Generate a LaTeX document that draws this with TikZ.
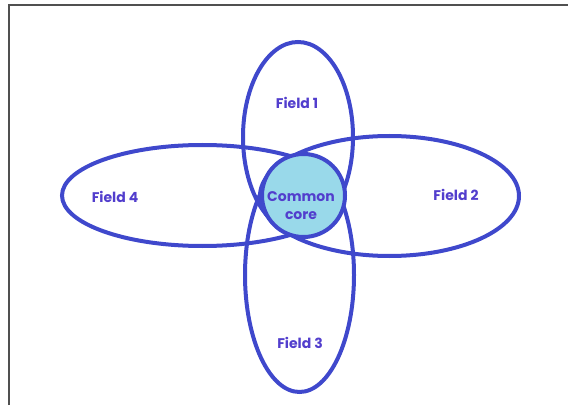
\documentclass[tikz,border=0pt]{standalone}
\usepackage{fontspec}
\setmainfont{Poppins}
\usetikzlibrary{shapes.geometric}
\definecolor{ringblue}{RGB}{63,72,204}
\definecolor{coreblue}{RGB}{153,217,234}
\definecolor{labelblue}{RGB}{82,62,205}
\definecolor{framegray}{RGB}{80,80,80}
\tikzset{
  ring/.style={ellipse, draw=ringblue, line width=4pt, inner sep=0pt},
  lbl/.style={text=labelblue, font=\fontsize{14}{18}\selectfont\bfseries, inner sep=0pt, align=center},
}
\begin{document}
\begin{tikzpicture}[x=1pt,y=1pt]
\useasboundingbox (0,0) rectangle (568,405);
\coordinate (ftl) at (9,400);
\coordinate (ftr) at (568,400);
\coordinate (fbl) at (9,0);
\draw[framegray, line width=1.5pt] (fbl) -- (ftl) -- (ftr);
\node[ring, minimum width=110pt, minimum height=190pt] (f1) at (298,268) {};
\node[ring, minimum width=109pt, minimum height=234pt] (f3) at (299.5,130) {};
\node[ring, minimum width=281pt, minimum height=101pt] (f4) at (202.5,209.5) {};
\node[ring, minimum width=259pt, minimum height=120pt] (f2) at (389.5,209) {};
\node[circle, draw=ringblue, fill=coreblue, line width=4pt, minimum size=83pt, inner sep=0pt] (core) at (303.5,209.5) {};
\node[lbl] (l1) at (297,302) {Field 1};
\node[lbl] (l2) at (456,210) {Field 2};
\node[lbl] (l3) at (300,62) {Field 3};
\node[lbl] (l4) at (115,208) {Field 4};
\node[lbl] (lc) at (301,199) {Common\\core};
\end{tikzpicture}
\end{document}
